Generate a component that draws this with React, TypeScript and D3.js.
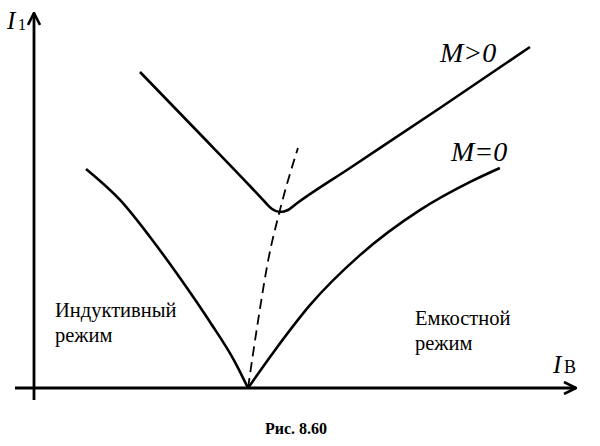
import React from "react";
import * as d3 from "d3";

type P = [number, number];

// Curve data in abstract units (x: 0..100, y: 0..100)
const m0Left: P[] = [
  [9.81, 59.84], [16.23, 51.37], [21.89, 41.26], [27.55, 30.05], [33.21, 18.03], [37.92, 7.1], [40.38, 0],
];
const m0Right: P[] = [
  [40.38, 0], [45.5, 10.4], [52.1, 22.7], [61.5, 36.3], [72.8, 48.6], [82.3, 56.3], [87.9, 60.1],
];
const mPos: P[] = [
  [20.0, 86.34], [31.32, 69.4], [40.75, 55.19], [43.58, 50.82], [44.91, 48.91], [46.42, 48.09],
  [47.92, 48.63], [49.43, 50.27], [59.62, 60.11], [76.6, 76.5], [93.58, 93.17],
];
const dashed: P[] = [
  [40.38, 0], [42.3, 18.6], [44.2, 35.0], [46.4, 48.6], [49.8, 65.6],
];

const curveLabels = ["M>0", "M=0"];
const regionLabels = [["Индуктивный", "режим"], ["Емкостной", "режим"]];
const caption = "Рис. 8.60";

const W = 600;
const H = 446;

function T(props: any) {
  const { children, ...rest } = props;
  return (
    <text {...rest} fontFamily="Liberation Serif" style={{ fontFamily: "'Liberation Serif'" }}>
      {children}
    </text>
  );
}

export default function App() {
  const x = d3.scaleLinear().domain([0, 100]).range([34, 564]);
  const y = d3.scaleLinear().domain([0, 100]).range([388, 22]);
  const line = d3
    .line<P>()
    .x((d) => x(d[0]))
    .y((d) => y(d[1]))
    .curve(d3.curveMonotoneX);

  const stroke = "#000";

  return (
    <svg
      width={W}
      height={H}
      style={{ position: "absolute", left: 0, top: 0, background: "#fff" }}
    >
      <defs>
        <marker id="arr" viewBox="0 0 14 14" refX="13" refY="7" markerWidth="14" markerHeight="14" markerUnits="userSpaceOnUse" orient="auto">
          <path d="M1,1 L13,7 L1,13" fill="none" stroke="#000" strokeWidth="2.6" strokeLinejoin="miter" />
        </marker>
      </defs>
      {/* axes */}
      <line x1={x(0)} y1={400} x2={x(0)} y2={13} stroke={stroke} strokeWidth={2.8} markerEnd="url(#arr)" />
      <line x1={15} y1={y(0)} x2={576} y2={y(0)} stroke={stroke} strokeWidth={2.8} markerEnd="url(#arr)" />

      {/* curves */}
      <path d={line(m0Left) || ""} fill="none" stroke={stroke} strokeWidth={2.6} />
      <path d={line(m0Right) || ""} fill="none" stroke={stroke} strokeWidth={2.6} />
      <path d={line(mPos) || ""} fill="none" stroke={stroke} strokeWidth={2.6} />
      <path d={line(dashed) || ""} fill="none" stroke={stroke} strokeWidth={1.8} strokeDasharray="10 6" />

      {/* axis labels */}
      <T x={7} y={29} fontSize={25} fontStyle="italic">I</T>
      <T x={18} y={30} fontSize={16}>1</T>
      <T x={553} y={373} fontSize={25} fontStyle="italic">I</T>
      <T x={564} y={373} fontSize={18}>В</T>

      {/* curve labels */}
      <T x={440} y={62} fontSize={28} fontStyle="italic">{curveLabels[0]}</T>
      <T x={451} y={161} fontSize={28} fontStyle="italic">{curveLabels[1]}</T>

      {/* region labels */}
      <T x={55} y={317} fontSize={20.5}>{regionLabels[0][0]}</T>
      <T x={55} y={342} fontSize={20.5}>{regionLabels[0][1]}</T>
      <T x={415} y={325} fontSize={20.5}>{regionLabels[1][0]}</T>
      <T x={415} y={350} fontSize={20.5}>{regionLabels[1][1]}</T>

      {/* caption */}
      <T x={265} y={434} fontSize={16} fontWeight="bold">{caption}</T>
    </svg>
  );
}
